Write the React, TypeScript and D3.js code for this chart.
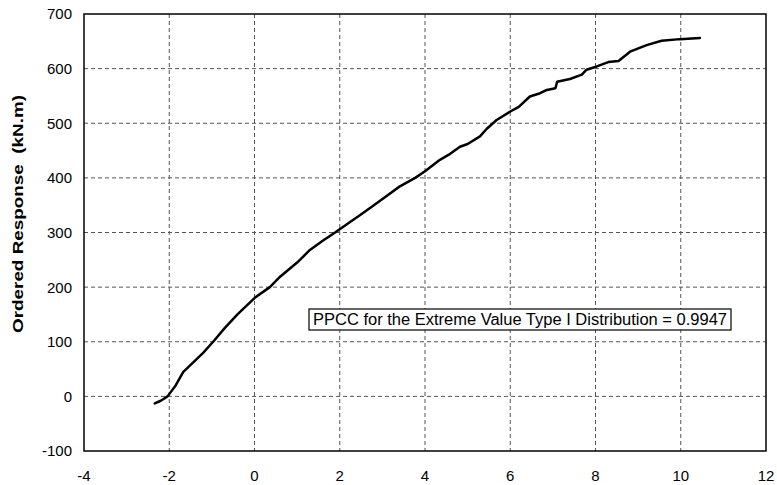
import React from "react";
import * as d3 from "d3";

const xTicks = [-4, -2, 0, 2, 4, 6, 8, 10, 12];
const yTicks = [-100, 0, 100, 200, 300, 400, 500, 600, 700];
const quantileX = [-2.34, -2.2, -2.04, -1.85, -1.67, -1.4, -1.2, -0.97, -0.7, -0.4, 0, 0.36, 0.6, 1.0, 1.3, 1.6, 1.89, 2.2, 2.48, 2.8, 3.1, 3.4, 3.77, 4.0, 4.35, 4.55, 4.82, 5.0, 5.29, 5.45, 5.68, 5.99, 6.2, 6.46, 6.7, 6.86, 7.06, 7.1, 7.4, 7.68, 7.79, 8.03, 8.3, 8.54, 8.81, 9.2, 9.55, 9.98, 10.45];
const responseY = [-13, -8, 0, 20, 45, 65, 80, 100, 125, 150, 180, 200, 219, 245, 268, 285, 300, 317, 332, 350, 367, 384, 400, 412, 433, 442, 457, 462, 476, 490, 506, 521, 530, 549, 555, 561, 564, 576, 581, 589, 598, 604, 612, 614, 631, 643, 651, 654, 656];
const yTitle = "Ordered Response  (kN.m)";
const annotation = "PPCC for the Extreme Value Type I Distribution = 0.9947";

export default function App() {
  const left = 84, right = 766, top = 14, bottom = 451;
  const x = d3.scaleLinear().domain([-4, 12]).range([left, right]);
  const y = d3.scaleLinear().domain([-100, 700]).range([bottom, top]);
  const pts: [number, number][] = quantileX.map((v, i) => [v, responseY[i]]);
  const line = d3.line<[number, number]>().x(d => x(d[0])).y(d => y(d[1])).curve(d3.curveLinear);
  const font = "Arial, 'Liberation Sans', sans-serif";
  return (
    <svg width={777} height={485} style={{ position: "absolute", left: 0, top: 0, background: "#fff" }} fontFamily={font}>
      <rect x={0} y={0} width={777} height={485} fill="#fff" />
      {yTicks.filter(t => t > -100 && t < 700).map(t => (
        <line key={"h" + t} x1={left} x2={right} y1={y(t)} y2={y(t)} stroke="#555" strokeWidth={1} strokeDasharray="4,3" />
      ))}
      {xTicks.filter(t => t > -4 && t < 12).map(t => (
        <line key={"v" + t} x1={x(t)} x2={x(t)} y1={top} y2={bottom} stroke="#555" strokeWidth={1} strokeDasharray="4,3" />
      ))}
      <rect x={left} y={top} width={right - left} height={bottom - top} fill="none" stroke="#000" strokeWidth={1.5} />
      <path d={line(pts) || ""} fill="none" stroke="#000" strokeWidth={2.5} strokeLinejoin="round" strokeLinecap="round" />
      {yTicks.map(t => (
        <text key={"yl" + t} x={72} y={y(t)} dy="0.36em" textAnchor="end" fontSize={15}>{t}</text>
      ))}
      {xTicks.map(t => (
        <text key={"xl" + t} x={x(t)} y={481} textAnchor="middle" fontSize={15}>{t}</text>
      ))}
      <text transform={`translate(23,214) rotate(-90)`} textAnchor="middle" fontSize={15} fontWeight="bold" style={{ whiteSpace: "pre" }} textLength={238} lengthAdjust="spacingAndGlyphs">{yTitle}</text>
      <rect x={309} y={309} width={422} height={21} fill="#fff" stroke="#000" strokeWidth={1.2} />
      <text x={313} y={325} fontSize={16} textLength={414} lengthAdjust="spacingAndGlyphs">{annotation}</text>
    </svg>
  );
}
